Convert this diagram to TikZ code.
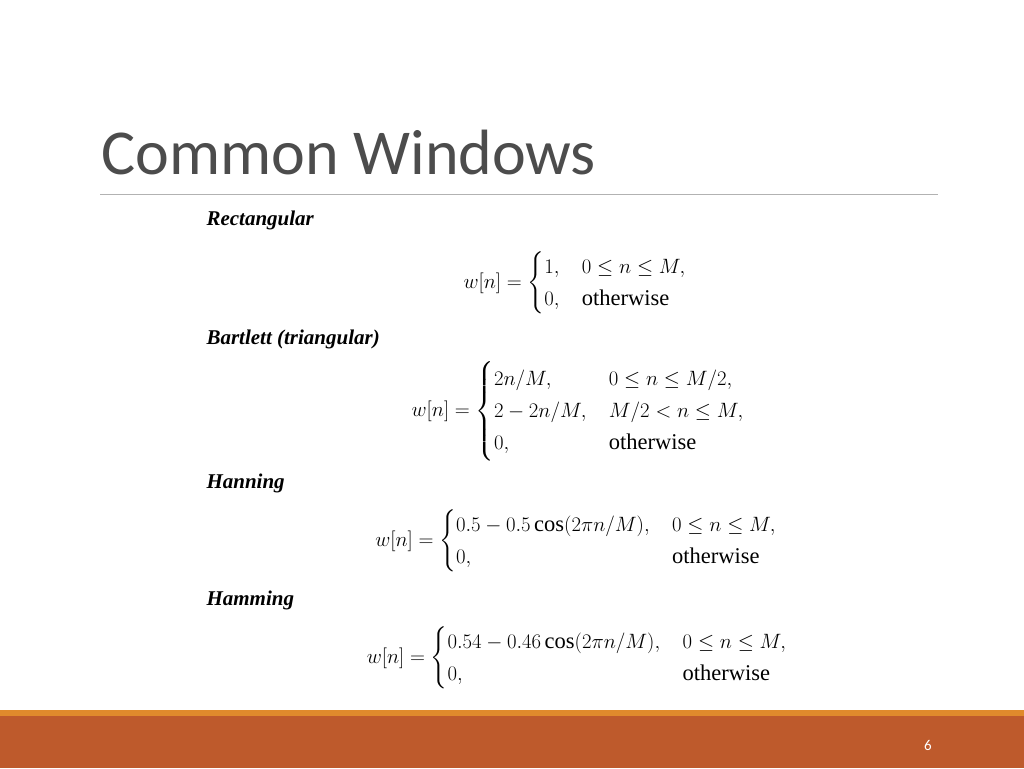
\documentclass[tikz,border=0pt]{standalone}
\usepackage{amsmath}
\usepackage{fontspec}
\setmainfont{Liberation Serif}
\newfontfamily\titlefont{Carlito}
\definecolor{barc}{HTML}{BE5A2C}
\definecolor{linec}{HTML}{E08A2C}
\tikzset{lbl/.style={anchor=west,font=\fontsize{21}{25}\selectfont\bfseries\itshape},
eq/.style={font=\fontsize{22.5}{27}\selectfont}}
\begin{document}
\begin{tikzpicture}[x=1pt,y=-1pt]
\useasboundingbox (0,0) rectangle (1024,768);
\fill[white] (0,0) rectangle (1024,768);
\node[anchor=west,font=\fontsize{64}{66}\selectfont\titlefont,text=black!70] (title) at (98,153) {Common Windows};
\draw[black!30,line width=0.8] (100,194) -- (938,194);
\node[lbl] (r) at (203,220) {Rectangular};
\node[eq] (re) at (575,283) {$w[n]=\begin{cases}1, & 0\le n\le M,\\ 0, & \text{otherwise}\end{cases}$};
\node[lbl] (b) at (203,339) {Bartlett (triangular)};
\node[eq] (be) at (578,411) {$w[n]=\begin{cases}2n/M, & 0\le n\le M/2,\\ 2-2n/M, & M/2<n\le M,\\ 0, & \text{otherwise}\end{cases}$};
\node[lbl] (h) at (203,483) {Hanning};
\node[eq] (he) at (576,541) {$w[n]=\begin{cases}0.5-0.5\cos(2\pi n/M), & 0\le n\le M,\\ 0, & \text{otherwise}\end{cases}$};
\node[lbl] (hm) at (203,600) {Hamming};
\node[eq] (hme) at (577,658) {$w[n]=\begin{cases}0.54-0.46\cos(2\pi n/M), & 0\le n\le M,\\ 0, & \text{otherwise}\end{cases}$};
\fill[linec] (0,710) rectangle (1024,716);
\fill[barc] (0,716) rectangle (1024,768);
\node[text=white,font=\fontsize{15}{17}\selectfont\titlefont] (pg) at (928,745) {6};
\end{tikzpicture}
\end{document}
